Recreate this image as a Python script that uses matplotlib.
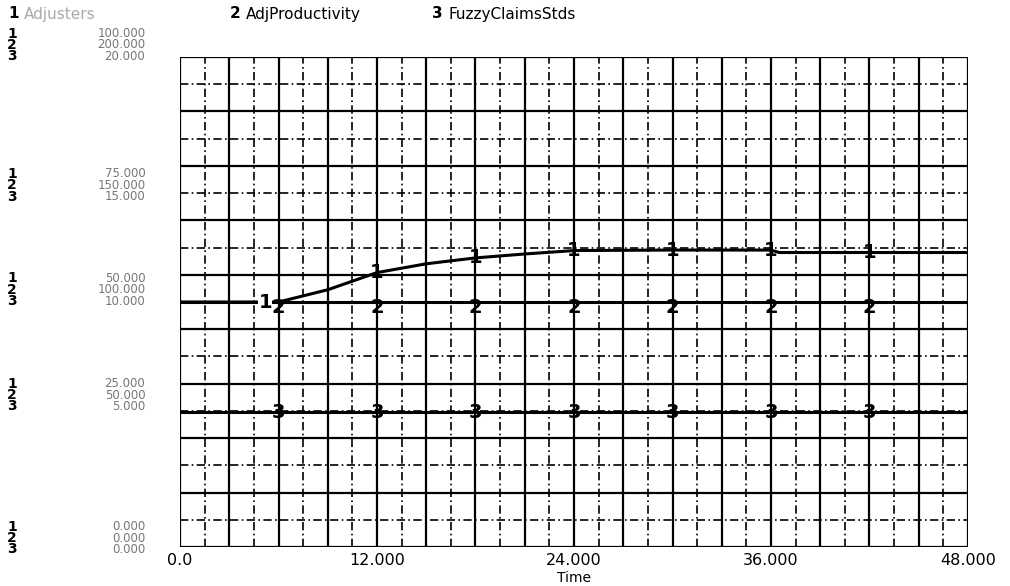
import matplotlib
matplotlib.use("Agg")
import matplotlib.pyplot as plt
import numpy as np

# series (time in months)
time = [0, 6, 9, 12, 15, 18, 21, 24, 30, 36, 36.5, 42, 48]
adjusters = [50, 50, 52.5, 56.0, 57.8, 59.0, 59.8, 60.5, 60.6, 60.6, 60.1, 60.1, 60.1]
adj_productivity = [100] * len(time)
fuzzy_claims_stds = [5.5] * len(time)

names = ["Adjusters", "AdjProductivity", "FuzzyClaimsStds"]
scale_max = [100.0, 200.0, 20.0]
label_fracs = [1.0, 0.75, 0.5, 0.25, 0.0]
marker_times = [6, 12, 18, 24, 30, 36, 42]
x_ticks = [0, 12, 24, 36, 48]
x_ticklabels = ["0.0", "12.000", "24.000", "36.000", "48.000"]

W, H = 1010, 586
fig = plt.figure(figsize=(W / 100, H / 100), dpi=100)
ax = fig.add_axes([180 / W, 1 - 547 / H, 788 / W, 490 / H])
ax.set_xlim(0, 48)
ax.set_ylim(0, 1)

# grid: 32 columns, 18 rows, alternating solid / dashed
for i in range(33):
    x = i * 1.5
    if i % 2 == 0:
        ax.axvline(x, color="black", lw=1.6, zorder=1)
    else:
        ax.axvline(x, color="black", lw=1.2, ls=(0, (5, 2, 1, 2)), zorder=1)
for j in range(19):
    y = j / 18
    if j % 2 == 0:
        ax.axhline(y, color="black", lw=1.6, zorder=1)
    else:
        ax.axhline(y, color="black", lw=1.2, ls=(0, (5, 2, 1, 2)), zorder=1)

series = [adjusters, adj_productivity, fuzzy_claims_stds]
for k, vals in enumerate(series):
    frac = np.array(vals) / scale_max[k]
    ax.plot(time, frac, color="black", lw=2.2, zorder=3)
    for t in marker_times:
        yv = np.interp(t, time, frac)
        dx = -0.8 if (k == 0 and t == 6) else 0
        dy = -0.012 if k == 1 else 0
        ax.text(t + dx, yv + dy, str(k + 1), ha="center", va="center",
                fontsize=14, fontweight="bold", zorder=4,
                bbox=dict(facecolor="white", edgecolor="none", pad=0.2) if k == 0 and t == 6 else None)

for s in ax.spines.values():
    s.set_visible(False)
ax.set_yticks([])
ax.set_xticks(x_ticks)
ax.set_xticklabels(x_ticklabels, fontsize=11.5)
ax.tick_params(axis="x", length=0, pad=4)
fig.text((180 + 394) / W, 1 - 578 / H, "Time", fontsize=10, ha="center", va="center")

# scale labels on the left, placed as in the scan
label_y = [1.025, 0.738, 0.525, 0.31, 0.018]
for frac, ypos in zip(label_fracs, label_y):
    txt = "\n".join("%.3f" % (frac * m) for m in scale_max)
    ax.text(-0.044, ypos, txt, transform=ax.transAxes, ha="right", va="center",
            fontsize=8.5, color="#777777", linespacing=0.85)
    ax.text(-0.213, ypos, "1\n2\n3", transform=ax.transAxes, ha="center", va="center",
            fontsize=10, fontweight="bold", linespacing=0.75)

# legend row
legend_x = [8, 230, 432]
for k, name in enumerate(names):
    fig.text(legend_x[k] / W, 1 - 14 / H, str(k + 1), fontsize=11, fontweight="bold",
             va="center", color="black")
    fig.text((legend_x[k] + 16) / W, 1 - 14 / H, name, fontsize=11, va="center",
             color="#aaaaaa" if k == 0 else "black")

fig.savefig("out.png", dpi=100)
